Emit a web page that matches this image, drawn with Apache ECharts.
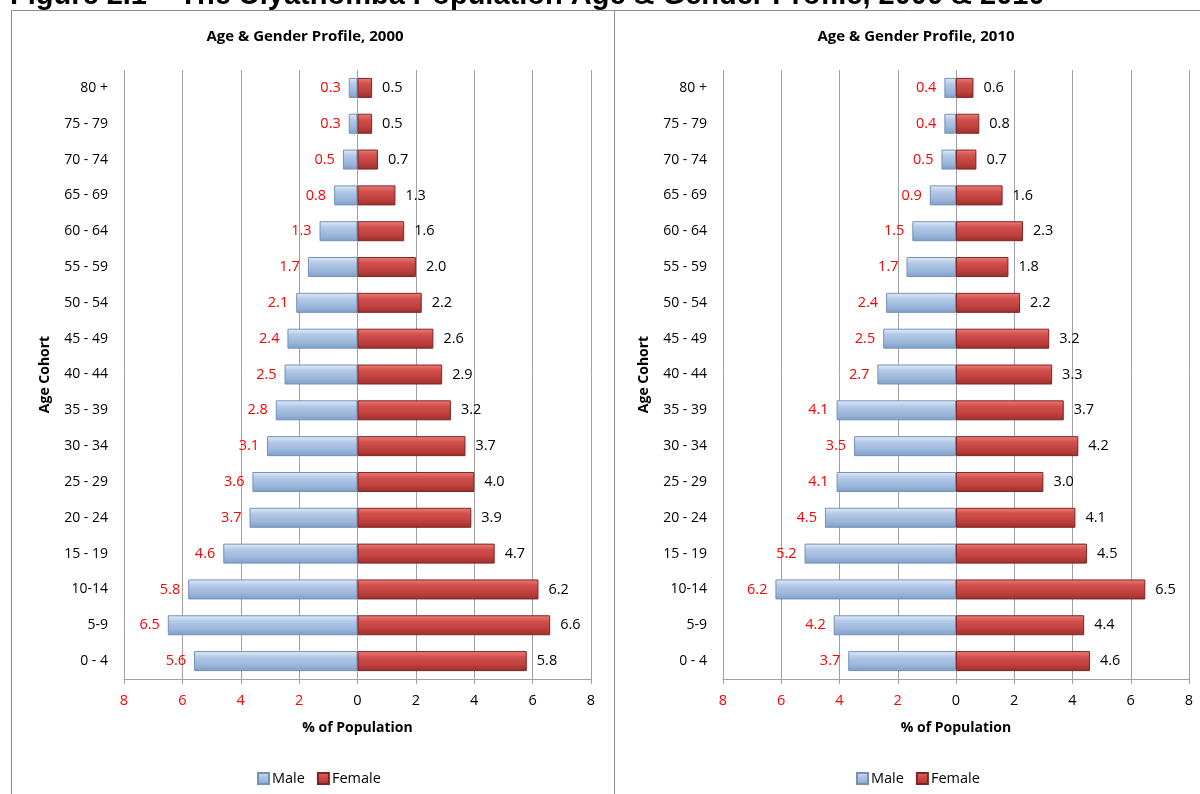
<!DOCTYPE html>
<html>
<head>
<meta charset="utf-8">
<script src="https://cdn.jsdelivr.net/npm/echarts@6/dist/echarts.min.js"></script>
<style>
  html, body { margin: 0; padding: 0; background: #fff; }
  #main { width: 1200px; height: 794px; }
</style>
</head>
<body>
<div id="main"></div>
<script>
// age cohorts, top to bottom
const cohorts = ['80 +', '75 - 79', '70 - 74', '65 - 69', '60 - 64', '55 - 59', '50 - 54', '45 - 49',
  '40 - 44', '35 - 39', '30 - 34', '25 - 29', '20 - 24', '15 - 19', '10-14', '5-9', '0 - 4']

// % of population, 2000
const male2000 = [0.3, 0.3, 0.5, 0.8, 1.3, 1.7, 2.1, 2.4, 2.5, 2.8, 3.1, 3.6, 3.7, 4.6, 5.8, 6.5, 5.6]
const female2000 = [0.5, 0.5, 0.7, 1.3, 1.6, 2.0, 2.2, 2.6, 2.9, 3.2, 3.7, 4.0, 3.9, 4.7, 6.2, 6.6, 5.8]

// % of population, 2010
const male2010 = [0.4, 0.4, 0.5, 0.9, 1.5, 1.7, 2.4, 2.5, 2.7, 4.1, 3.5, 4.1, 4.5, 5.2, 6.2, 4.2, 3.7]
const female2010 = [0.6, 0.8, 0.7, 1.6, 2.3, 1.8, 2.2, 3.2, 3.3, 3.7, 4.2, 3.0, 4.1, 4.5, 6.5, 4.4, 4.6]

const chartTitles = ['Age & Gender Profile, 2000', 'Age & Gender Profile, 2010']
const figureTitle = 'Figure 2.1 \u2013 The Ulyathomba Population Age & Gender Profile, 2000 & 2010'

const font = 'Open Sans, Noto Sans, sans-serif'

const maleColor = new echarts.graphic.LinearGradient(0, 0, 0, 1, [
  { offset: 0, color: '#e4edf8' },
  { offset: 0.3, color: '#b3c9e6' },
  { offset: 0.7, color: '#9ab6da' },
  { offset: 1, color: '#7f9dc6' }
])
const femaleColor = new echarts.graphic.LinearGradient(0, 0, 0, 1, [
  { offset: 0, color: '#f07c79' },
  { offset: 0.3, color: '#d0504c' },
  { offset: 0.7, color: '#be3f3c' },
  { offset: 1, color: '#9a2f2d' }
])

const grids = [
  { left: 124, right: 609, top: 70, bottom: 115 },
  { left: 723, right: 11, top: 70, bottom: 115 }
]

const makeX = (i) => ({
  type: 'value',
  gridIndex: i,
  min: -8,
  max: 8,
  interval: 2,
  name: '% of Population',
  nameLocation: 'middle',
  nameGap: 42,
  nameTextStyle: { fontFamily: font, fontWeight: 'bold', fontSize: 14, color: '#000' },
  axisLine: { show: true, lineStyle: { color: '#a0a0a0' } },
  axisTick: { show: true, length: 5, lineStyle: { color: '#a0a0a0' } },
  axisLabel: {
    fontFamily: font,
    fontSize: 14.5,
    margin: 14,
    formatter: (v) => String(Math.abs(v)),
    color: (v) => (v < 0 ? '#ff0000' : '#000')
  },
  splitLine: { show: true, lineStyle: { color: '#a0a0a0' } }
})

const makeY = (i) => ({
  type: 'category',
  gridIndex: i,
  data: cohorts,
  inverse: true,
  name: 'Age Cohort',
  nameLocation: 'middle',
  nameGap: 72,
  nameRotate: 90,
  nameTextStyle: { fontFamily: font, fontWeight: 'bold', fontSize: 14, color: '#000' },
  axisLine: { show: false },
  axisTick: { show: false },
  axisLabel: { fontFamily: font, fontSize: 14, color: '#000', margin: 16 }
})

const makeSeries = (i, male, female) => [
  {
    name: 'Male',
    type: 'bar',
    xAxisIndex: i,
    yAxisIndex: i,
    barWidth: 20,
    barGap: '-100%',
    data: male.map((v) => -v),
    itemStyle: { color: maleColor, borderColor: '#7491bb', borderWidth: 1 },
    label: {
      show: true,
      position: 'left',
      distance: 8,
      fontFamily: font,
      fontSize: 14.5,
      color: '#ff0000',
      formatter: (p) => Math.abs(p.value).toFixed(1)
    }
  },
  {
    name: 'Female',
    type: 'bar',
    xAxisIndex: i,
    yAxisIndex: i,
    barWidth: 20,
    barGap: '-100%',
    data: female,
    itemStyle: { color: femaleColor, borderColor: '#7f2422', borderWidth: 1 },
    label: {
      show: true,
      position: 'right',
      distance: 10,
      fontFamily: font,
      fontSize: 14.5,
      color: '#000',
      formatter: (p) => p.value.toFixed(1)
    }
  }
]

const makeLegend = (center) => ({
  data: ['Male', 'Female'],
  left: center - 64,
  top: 766,
  itemWidth: 11,
  itemHeight: 11,
  itemGap: 12,
  icon: 'rect',
  textStyle: { fontFamily: font, fontSize: 14.5, color: '#000', padding: [0, 0, 0, -2] },
  selectedMode: false
})

const myChart = echarts.init(document.getElementById('main'))

const option = {
  animation: false,
  backgroundColor: '#fff',
  title: [
    {
      text: chartTitles[0],
      left: 300,
      top: 24,
      textAlign: 'center',
      textStyle: { fontFamily: font, fontWeight: 'bold', fontSize: 15, color: '#000' }
    },
    {
      text: chartTitles[1],
      left: 911,
      top: 24,
      textAlign: 'center',
      textStyle: { fontFamily: font, fontWeight: 'bold', fontSize: 15, color: '#000' }
    }
  ],
  graphic: [
    {
      type: 'text',
      left: 10,
      top: -19,
      style: {
        text: figureTitle,
        fontFamily: 'Liberation Sans, Arial, sans-serif',
        fontWeight: 'bold',
        fontSize: 29,
        lineHeight: 29,
        fill: '#000'
      }
    },
    {
      type: 'rect',
      shape: { x: 11.5, y: 10.5, width: 603, height: 800 },
      style: { fill: 'none', stroke: '#8c8c8c', lineWidth: 1 },
      z: -1
    },
    {
      type: 'rect',
      shape: { x: 614.5, y: 10.5, width: 600, height: 800 },
      style: { fill: 'none', stroke: '#8c8c8c', lineWidth: 1 },
      z: -1
    }
  ],
  legend: [makeLegend(316), makeLegend(915)],
  grid: grids,
  xAxis: [makeX(0), makeX(1)],
  yAxis: [makeY(0), makeY(1)],
  series: [...makeSeries(0, male2000, female2000), ...makeSeries(1, male2010, female2010)]
}

myChart.setOption(option)
</script>
</body>
</html>
